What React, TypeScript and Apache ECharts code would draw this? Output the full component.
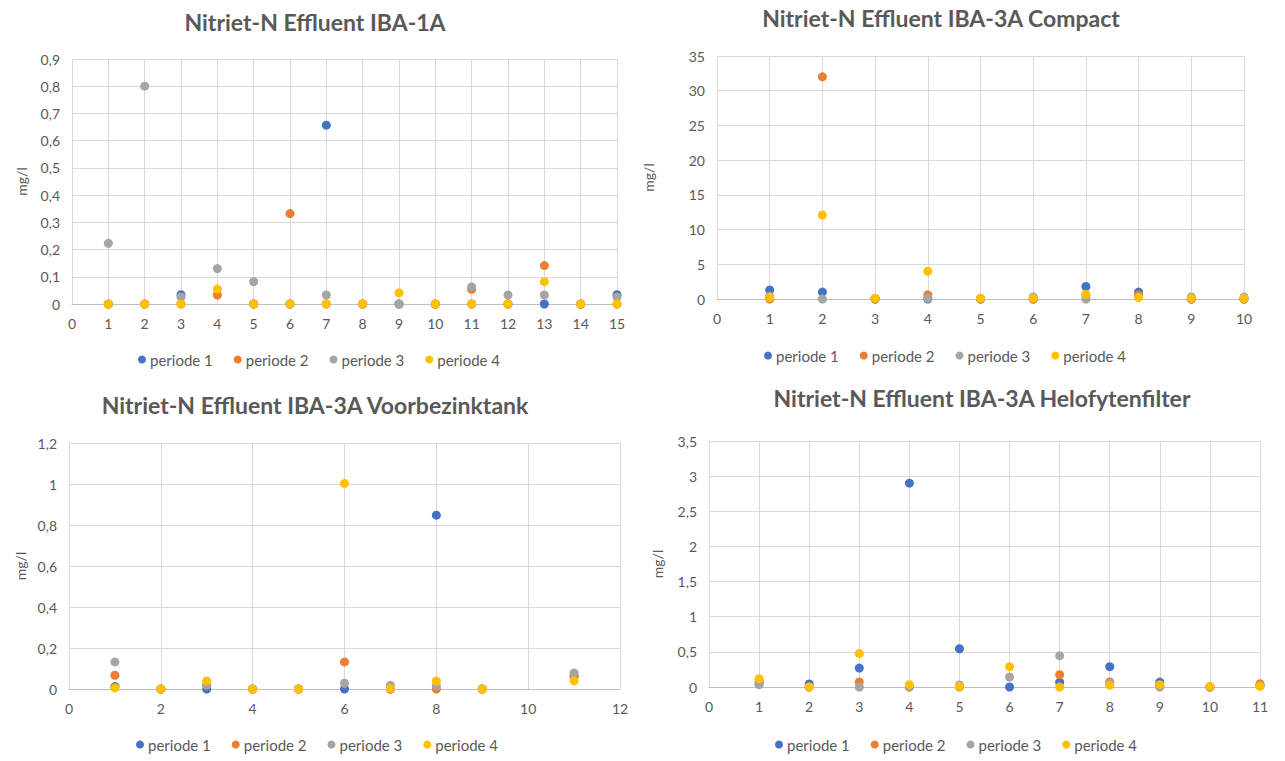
import React, { useEffect, useRef } from "react";
import * as echarts from "echarts";

// Sample numbers per installation
const samplesIba1a = [1, 2, 3, 4, 5, 6, 7, 8, 9, 10, 11, 12, 13, 14, 15];
const samplesCompact = [1, 2, 3, 4, 5, 6, 7, 8, 9, 10];
const samplesVoorbezink = [1, 2, 3, 4, 5, 6, 7, 8, 9, 10, 11];
const samplesHelofyt = [1, 2, 3, 4, 5, 6, 7, 8, 9, 10, 11];

// Nitriet-N (mg/l), IBA-1A
const iba1aP1 = [0, 0, 0.034, null, 0, 0, 0.657, 0, 0, 0, 0, 0, 0, 0, 0.034];
const iba1aP2 = [0, 0, 0, 0.033, 0, 0.332, 0, 0, 0, 0, 0.054, 0, 0.141, 0, 0];
const iba1aP3 = [0.223, 0.8, 0.026, 0.13, 0.082, 0, 0.033, 0, 0, 0, 0.063, 0.033, 0.033, 0, 0.026];
const iba1aP4 = [0, 0, 0, 0.055, 0, 0, 0, 0, 0.041, 0, 0, 0, 0.082, 0, 0];

// Nitriet-N (mg/l), IBA-3A Compact
const compactP1 = [1.3, 1.0, 0, 0, 0, 0, 1.8, 1.0, 0, 0];
const compactP2 = [0, 32.0, 0, 0.6, 0, 0, 0.5, 0.6, 0, 0];
const compactP3 = [0.4, 0, 0.1, 0.1, 0.1, 0.3, 0, 0.3, 0.3, 0.3];
const compactP4 = [0.2, 12.1, 0.1, 4.0, 0.1, 0.1, 0.7, 0.2, 0.1, 0.1];

// Nitriet-N (mg/l), IBA-3A Voorbezinktank
const voorbezinkP1 = [0.012, 0, 0, 0, 0, 0, 0, 0.848, 0, null, 0.065];
const voorbezinkP2 = [0.067, 0, 0.02, 0, 0, 0.132, 0, 0, 0, null, 0.06];
const voorbezinkP3 = [0.132, 0, 0.02, 0, 0, 0.028, 0.018, 0.016, 0, null, 0.078];
const voorbezinkP4 = [0.005, 0, 0.039, 0, 0, 1.003, 0.003, 0.039, 0, null, 0.04];

// Nitriet-N (mg/l), IBA-3A Helofytenfilter
const helofytP1 = [0.05, 0.043, 0.27, 2.9, 0.544, 0, 0.066, 0.289, 0.07, 0, 0.02];
const helofytP2 = [0.09, 0, 0.071, 0, 0, null, 0.175, 0.071, 0.02, 0, 0.047];
const helofytP3 = [0.033, 0, 0, 0, 0.03, 0.142, 0.445, 0.05, 0, 0, 0.02];
const helofytP4 = [0.118, 0, 0.478, 0.033, 0.01, 0.289, 0, 0.024, 0.033, 0.01, 0.01];

const periodNames = ["periode 1", "periode 2", "periode 3", "periode 4"];
const periodColors = ["#4472C4", "#ED7D31", "#A5A5A5", "#FFC000"];

const FONT = "Lato, 'Liberation Sans', sans-serif";
const TEXT = "#595959";

type Panel = {
  title: string;
  titleX: number;
  titleY: number;
  grid: { left: number; top: number; width: number; height: number };
  xMax: number;
  xStep: number;
  yMax: number;
  yStep: number;
  nameGap: number;
  legendLeft: number;
  legendTop: number;
  samples: number[];
  values: (number | null)[][];
};

const panels: Panel[] = [
  {
    title: "Nitriet-N Effluent IBA-1A",
    titleX: 315, titleY: 22,
    grid: { left: 72, top: 59, width: 545, height: 245 },
    xMax: 15, xStep: 1, yMax: 0.9, yStep: 0.1, nameGap: 44,
    legendLeft: 138, legendTop: 352,
    samples: samplesIba1a,
    values: [iba1aP1, iba1aP2, iba1aP3, iba1aP4],
  },
  {
    title: "Nitriet-N Effluent IBA-3A Compact",
    titleX: 941, titleY: 18,
    grid: { left: 717, top: 56, width: 527, height: 243 },
    xMax: 10, xStep: 1, yMax: 35, yStep: 5, nameGap: 62,
    legendLeft: 764, legendTop: 348,
    samples: samplesCompact,
    values: [compactP1, compactP2, compactP3, compactP4],
  },
  {
    title: "Nitriet-N Effluent IBA-3A Voorbezinktank",
    titleX: 315, titleY: 405,
    grid: { left: 69, top: 443, width: 551, height: 246 },
    xMax: 12, xStep: 2, yMax: 1.2, yStep: 0.2, nameGap: 42,
    legendLeft: 136, legendTop: 737,
    samples: samplesVoorbezink,
    values: [voorbezinkP1, voorbezinkP2, voorbezinkP3, voorbezinkP4],
  },
  {
    title: "Nitriet-N Effluent IBA-3A Helofytenfilter",
    titleX: 982, titleY: 398,
    grid: { left: 709, top: 441, width: 551, height: 246 },
    xMax: 11, xStep: 1, yMax: 3.5, yStep: 0.5, nameGap: 45,
    legendLeft: 775, legendTop: 737,
    samples: samplesHelofyt,
    values: [helofytP1, helofytP2, helofytP3, helofytP4],
  },
];

const fmt = (v: number) => String(Number(v.toFixed(2))).replace(".", ",");

function buildOption() {
  const grid: any[] = [];
  const xAxis: any[] = [];
  const yAxis: any[] = [];
  const series: any[] = [];
  const legend: any[] = [];
  const graphic: any[] = [];

  panels.forEach((p, i) => {
    grid.push({ ...p.grid, containLabel: false });
    xAxis.push({
      gridIndex: i,
      type: "value",
      min: 0,
      max: p.xMax,
      interval: p.xStep,
      axisLine: { show: true, lineStyle: { color: "#BFBFBF", width: 1 } },
      axisTick: { show: false },
      splitLine: { show: true, lineStyle: { color: "#D9D9D9", width: 1 } },
      axisLabel: { color: TEXT, fontSize: 14, fontFamily: FONT, margin: 12, formatter: fmt },
    });
    yAxis.push({
      gridIndex: i,
      type: "value",
      min: 0,
      max: p.yMax,
      interval: p.yStep,
      name: "mg/l",
      nameLocation: "middle",
      nameRotate: 90,
      nameGap: p.nameGap,
      nameTextStyle: { color: TEXT, fontSize: 14, fontFamily: FONT },
      axisLine: { show: false },
      axisTick: { show: false },
      splitLine: { show: true, lineStyle: { color: "#D9D9D9", width: 1 } },
      axisLabel: { color: TEXT, fontSize: 14, fontFamily: FONT, margin: 12, formatter: fmt },
    });
    p.values.forEach((vals, k) => {
      const data: number[][] = [];
      vals.forEach((v, j) => {
        if (v !== null && v !== undefined) data.push([p.samples[j], v]);
      });
      series.push({
        type: "scatter",
        name: periodNames[k],
        xAxisIndex: i,
        yAxisIndex: i,
        symbol: "circle",
        symbolSize: 9,
        clip: false,
        itemStyle: { color: periodColors[k], opacity: 1 },
        data,
      });
    });
    legend.push({
      data: periodNames,
      left: p.legendLeft,
      top: p.legendTop,
      icon: "circle",
      itemWidth: 8,
      itemHeight: 8,
      itemGap: 21,
      textStyle: { color: TEXT, fontSize: 15, fontFamily: FONT, padding: [0, 0, 0, -1] },
      padding: 0,
    });
    graphic.push({
      type: "text",
      x: p.titleX,
      y: p.titleY,
      style: {
        text: p.title,
        fill: TEXT,
        fontSize: 23,
        fontWeight: "bold",
        fontFamily: FONT,
        align: "center",
        verticalAlign: "middle",
      },
    });
  });

  return {
    animation: false,
    backgroundColor: "#FFFFFF",
    grid,
    xAxis,
    yAxis,
    series,
    legend,
    graphic,
  };
}

export default function App() {
  const ref = useRef<HTMLDivElement>(null);

  useEffect(() => {
    if (!ref.current) return;
    const chart = echarts.init(ref.current, null, { renderer: "svg" });
    chart.setOption(buildOption());
    return () => chart.dispose();
  }, []);

  return (
    <div
      ref={ref}
      style={{ position: "fixed", left: 0, top: 0, width: 1285, height: 761, background: "#fff" }}
    />
  );
}
